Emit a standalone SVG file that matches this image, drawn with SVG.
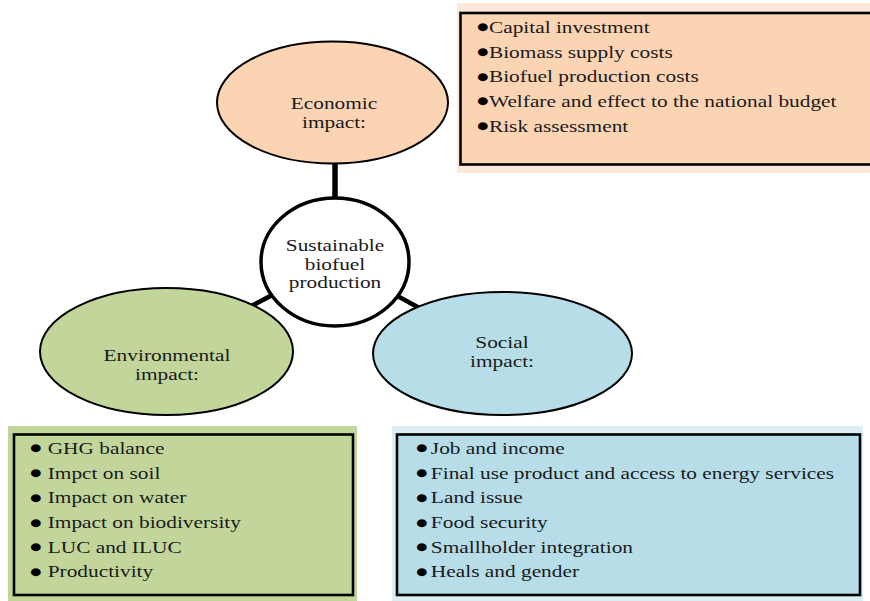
<svg xmlns="http://www.w3.org/2000/svg" width="870" height="601" viewBox="0 0 870 601">
<style>
text{font-family:"Liberation Serif","Times New Roman",serif;font-size:17.5px;fill:#1a1a1a}
.lbl{text-anchor:middle}
.b{font-family:"DejaVu Sans",sans-serif;font-size:10.5px;fill:#000}
.conn{stroke:#000;stroke-linecap:butt}
.ell{stroke:#000;stroke-width:2}
.box{stroke:#000;stroke-width:2.6}
</style>
<rect width="870" height="601" fill="#fff"/>
<g id="connectors">
<line class="conn" x1="335" y1="120" x2="335" y2="262" stroke-width="5.5"/>
<line class="conn" x1="335" y1="262" x2="166" y2="351" stroke-width="4.5"/>
<line class="conn" x1="335" y1="262" x2="502" y2="353" stroke-width="4.5"/>
</g>
<g id="economic">
<ellipse class="ell" cx="332.5" cy="102.5" rx="115.5" ry="61" fill="#fbd4b4"/>
<g transform="translate(334,0) scale(1.22,1)">
<text class="lbl" x="0" y="109">Economic</text>
<text class="lbl" x="0" y="128">impact:</text>
</g>
</g>
<g id="center">
<ellipse cx="335" cy="262" rx="74" ry="64" fill="#fff" stroke="#000" stroke-width="3.5"/>
<g transform="translate(335,0) scale(1.22,1)">
<text class="lbl" x="0" y="251.5">Sustainable</text>
<text class="lbl" x="0" y="270">biofuel</text>
<text class="lbl" x="0" y="288">production</text>
</g>
</g>
<g id="environmental">
<ellipse class="ell" cx="166.5" cy="351.5" rx="126.5" ry="63.5" fill="#c2d69b"/>
<g transform="translate(167,0) scale(1.22,1)">
<text class="lbl" x="0" y="361">Environmental</text>
<text class="lbl" x="0" y="380">impact:</text>
</g>
</g>
<g id="social">
<ellipse class="ell" cx="502.5" cy="353.5" rx="129.5" ry="61.5" fill="#b6dde8"/>
<g transform="translate(502,0) scale(1.22,1)">
<text class="lbl" x="0" y="348">Social</text>
<text class="lbl" x="0" y="367">impact:</text>
</g>
</g>
<g id="economic-list">
<rect x="457" y="3" width="413" height="170" fill="#fde9d9"/>
<rect class="box" x="460.5" y="13" width="420" height="151.5" fill="#fbd4b4"/>
<g transform="translate(477,0) scale(1.22,1)">
<text y="33"><tspan class="b" x="0" dy="-2.5">●</tspan><tspan x="9.8" y="33">Capital investment</tspan></text>
<text y="58"><tspan class="b" x="0" dy="-2.5">●</tspan><tspan x="9.8" y="58">Biomass supply costs</tspan></text>
<text y="82.5"><tspan class="b" x="0" dy="-2.5">●</tspan><tspan x="9.8" y="82.5">Biofuel production costs</tspan></text>
<text y="107"><tspan class="b" x="0" dy="-2.5">●</tspan><tspan x="9.8" y="107">Welfare and effect to the national budget</tspan></text>
<text y="132"><tspan class="b" x="0" dy="-2.5">●</tspan><tspan x="9.8" y="132">Risk assessment</tspan></text>
</g>
</g>
<g id="environmental-list">
<rect x="8" y="426" width="349" height="175" fill="#c2d69b"/>
<rect class="box" x="14" y="434.5" width="339" height="160.5" fill="#c2d69b"/>
<g transform="translate(30,0) scale(1.22,1)">
<text y="454"><tspan class="b" x="0" dy="-2.5">●</tspan><tspan x="14.5" y="454">GHG balance</tspan></text>
<text y="478.7"><tspan class="b" x="0" dy="-2.5">●</tspan><tspan x="14.5" y="478.7">Impct on soil</tspan></text>
<text y="503.4"><tspan class="b" x="0" dy="-2.5">●</tspan><tspan x="14.5" y="503.4">Impact on water</tspan></text>
<text y="528.1"><tspan class="b" x="0" dy="-2.5">●</tspan><tspan x="14.5" y="528.1">Impact on biodiversity</tspan></text>
<text y="552.8"><tspan class="b" x="0" dy="-2.5">●</tspan><tspan x="14.5" y="552.8">LUC and ILUC</tspan></text>
<text y="577.5"><tspan class="b" x="0" dy="-2.5">●</tspan><tspan x="14.5" y="577.5">Productivity</tspan></text>
</g>
</g>
<g id="social-list">
<rect x="392" y="426" width="471" height="175" fill="#dbeef3"/>
<rect class="box" x="397" y="434.5" width="463" height="160.5" fill="#b6dde8"/>
<g transform="translate(416,0) scale(1.22,1)">
<text y="454"><tspan class="b" x="0" dy="-2.5">●</tspan><tspan x="12.2" y="454">Job and income</tspan></text>
<text y="478.7"><tspan class="b" x="0" dy="-2.5">●</tspan><tspan x="12.2" y="478.7">Final use product and access to energy services</tspan></text>
<text y="503.4"><tspan class="b" x="0" dy="-2.5">●</tspan><tspan x="12.2" y="503.4">Land issue</tspan></text>
<text y="528.1"><tspan class="b" x="0" dy="-2.5">●</tspan><tspan x="12.2" y="528.1">Food security</tspan></text>
<text y="552.8"><tspan class="b" x="0" dy="-2.5">●</tspan><tspan x="12.2" y="552.8">Smallholder integration</tspan></text>
<text y="577.5"><tspan class="b" x="0" dy="-2.5">●</tspan><tspan x="12.2" y="577.5">Heals and gender</tspan></text>
</g>
</g>
</svg>
